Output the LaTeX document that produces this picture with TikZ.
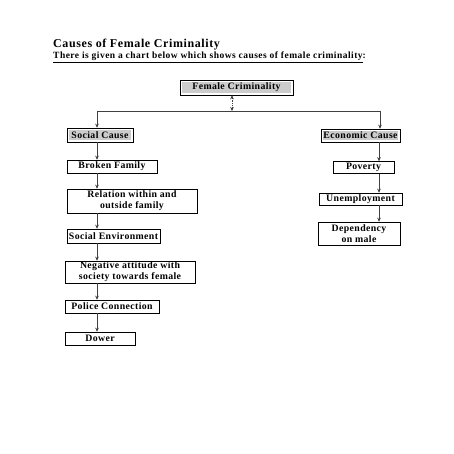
\documentclass[tikz,border=0pt]{standalone}
\usepackage{fontspec}
\setmainfont{Liberation Serif}
\usetikzlibrary{arrows.meta}
\begin{document}
\begin{tikzpicture}[x=1pt,y=-1pt,
  box/.style={draw=black,line width=0.6pt,inner sep=0pt,font=\bfseries\fontsize{9.8}{10.8}\selectfont\addfontfeature{LetterSpace=4},align=center,anchor=center},
  graybox/.style={box,path picture={\fill[gray!40] ([shift={(1.6pt,-1.6pt)}]path picture bounding box.north west) rectangle ([shift={(-1.6pt,1.6pt)}]path picture bounding box.south east);}},
  conn/.style={draw=black!75,line width=0.5pt},
  tip/.tip={Stealth[length=4pt,width=3.6pt]},
  arr/.style={conn,-tip}]
\useasboundingbox (0,0) rectangle (454,454);
\fill[white] (0,0) rectangle (454,454);
\node[anchor=base west,inner sep=0pt,font=\bfseries\fontsize{12}{14}\selectfont\addfontfeature{LetterSpace=5}] (title) at (53,47.5) {Causes of Female Criminality};
\node[anchor=base west,inner sep=0pt,font=\bfseries\fontsize{9.5}{11}\selectfont\addfontfeature{LetterSpace=5}] (sub) at (53,59) {\underline{There is given a chart below which shows causes of female criminality}:};
% nodes
\node[graybox,minimum width=113pt,minimum height=15pt] (fc) at (236.5,87.5) {Female Criminality};
\node[graybox,minimum width=66pt,minimum height=14pt] (soc) at (100,135) {Social Cause};
\node[graybox,minimum width=79pt,minimum height=13pt] (eco) at (360.5,135.5) {Economic Cause};
\node[box,minimum width=90pt,minimum height=13pt] (bf) at (112,166.5) {Broken Family};
\node[box,minimum width=130pt,minimum height=24pt] (rel) at (132,201) {Relation within and\\outside family};
\node[box,minimum width=93pt,minimum height=14pt] (se) at (113.5,236) {Social Environment};
\node[box,minimum width=130pt,minimum height=22pt] (neg) at (130,272) {Negative attitude with\\society towards female};
\node[box,minimum width=94pt,minimum height=13pt] (pc) at (112,306.5) {Police Connection};
\node[box,minimum width=70pt,minimum height=13pt] (dow) at (100,338.5) {Dower};
\node[box,minimum width=61pt,minimum height=12pt] (pov) at (363.5,167.5) {Poverty};
\node[box,minimum width=83pt,minimum height=12pt] (une) at (360.5,199) {Unemployment};
\node[box,minimum width=82pt,minimum height=23pt] (dep) at (359,233.5) {Dependency\\on male};
% coordinates
\coordinate (colL) at (97,0);
\coordinate (colR) at (379,0);
\coordinate (mid) at (232,0);
\coordinate (hl) at (97,111);
\coordinate (hr) at (380,111);
\coordinate (hm) at (232,111);
% connectors
\draw[conn,dash pattern=on 1pt off 0.8pt,tip-tip] (fc.south -| mid) -- (hm);
\draw[conn] (hl) -- (hr);
\draw[arr] (hl) -- (soc.north -| hl);
\draw[arr] (hr) -- (eco.north -| hr);
\draw[arr] (soc.south -| colL) -- (bf.north -| colL);
\draw[arr] (bf.south -| colL) -- (rel.north -| colL);
\draw[arr] (rel.south -| colL) -- (se.north -| colL);
\draw[arr] (se.south -| colL) -- (neg.north -| colL);
\draw[arr] (neg.south -| colL) -- (pc.north -| colL);
\draw[arr] (pc.south -| colL) -- (dow.north -| colL);
\draw[arr] (eco.south -| colR) -- (pov.north -| colR);
\draw[arr] (pov.south -| colR) -- (une.north -| colR);
\draw[arr] (une.south -| colR) -- (dep.north -| colR);
\end{tikzpicture}
\end{document}
